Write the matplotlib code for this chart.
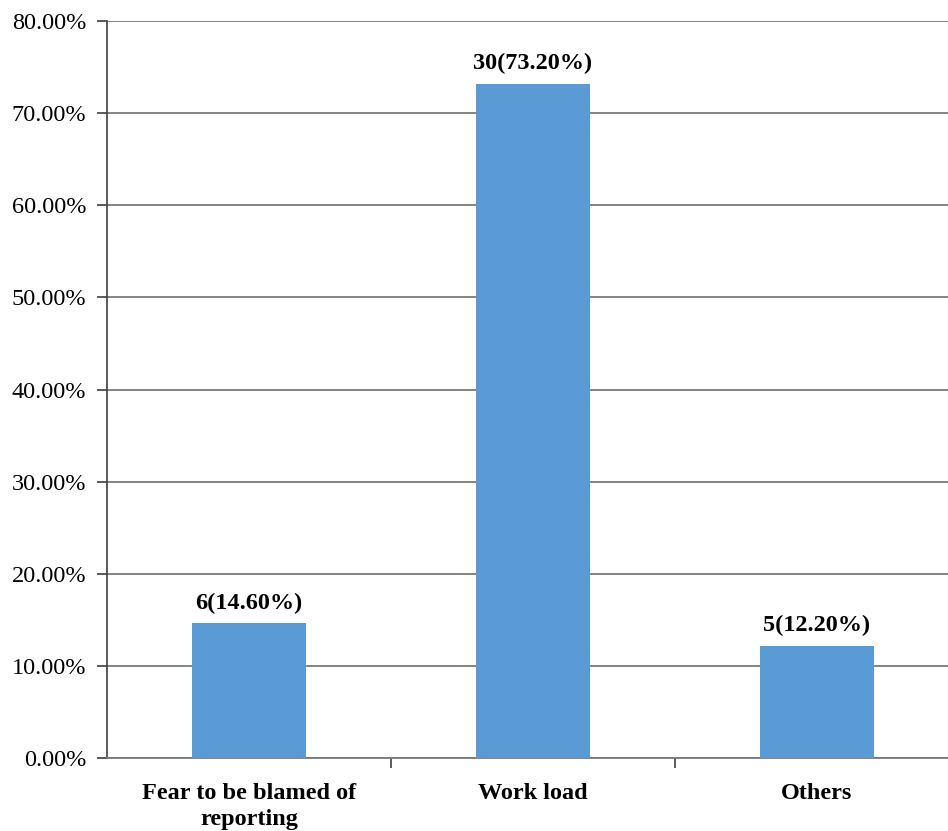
import matplotlib
matplotlib.use("Agg")
import matplotlib.pyplot as plt
from matplotlib.ticker import FuncFormatter, FixedLocator

categories = ["Fear to be blamed of\nreporting", "Work load", "Others"]
counts = [6, 30, 5]
percents = [14.60, 73.20, 12.20]
yticks = [0, 10, 20, 30, 40, 50, 60, 70, 80]

plt.rcParams['font.family'] = ['Liberation Serif', 'DejaVu Serif']

fig = plt.figure(figsize=(9.48, 8.31), dpi=100)
ax = fig.add_axes([107/948, 73/831, (959-107)/948, (758-21)/831])

x = list(range(len(categories)))
bars = ax.bar(x, percents, width=0.4, color='#5B9BD5', zorder=3)

for xi, c, p in zip(x, counts, percents):
    ax.annotate(f"{c}({p:.2f}%)", (xi, p), xytext=(0, 7), textcoords='offset points',
                ha='center', va='bottom', fontsize=17.5, fontweight='bold')

ax.set_xlim(-0.5, 2.5)
ax.set_ylim(0, 80)
ax.set_yticks(yticks)
ax.yaxis.set_major_formatter(FuncFormatter(lambda v, pos: f"{v:.2f}%"))
ax.grid(axis='y', color='#7a7a7a', linewidth=1.3, zorder=0)
ax.set_axisbelow(True)

ax.set_xticks(x)
ax.set_xticklabels(categories, fontsize=17.5, fontweight='bold', linespacing=1.3)
ax.tick_params(axis='x', length=0, pad=18)
ax.xaxis.set_minor_locator(FixedLocator([0.5, 1.5]))
ax.tick_params(axis='x', which='minor', length=7, width=1.2, color='#404040', direction='out')
ax.tick_params(axis='y', labelsize=17.5, length=7, width=1.2, color='#404040', pad=8)

for s in ['top', 'right']:
    ax.spines[s].set_visible(False)
ax.spines['left'].set_color('#404040')
ax.spines['left'].set_linewidth(1.2)
ax.spines['bottom'].set_color('#7a7a7a')
ax.spines['bottom'].set_linewidth(1.3)

fig.savefig("out.png", dpi=100)
